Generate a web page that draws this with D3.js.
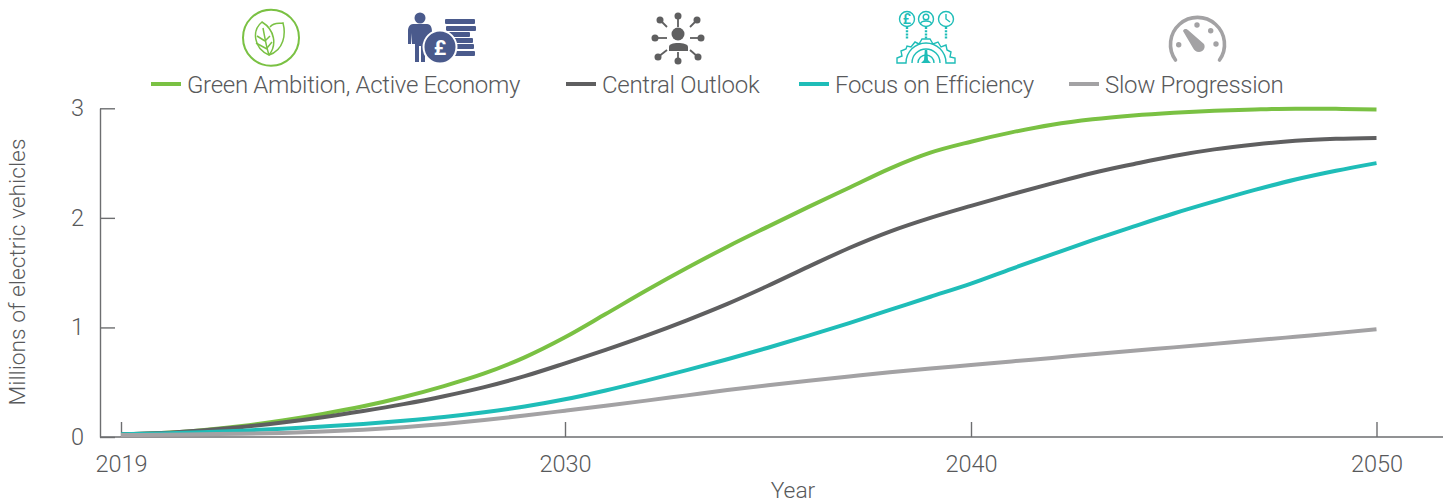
<!DOCTYPE html>
<html lang="en">
<head>
    <meta charset="UTF-8">
    <title>Electric vehicles</title>
    <style>
        html, body { margin: 0; padding: 0; background: #fff; }
        svg { display: block; }
        text { font-family: "Roboto", "Liberation Sans", sans-serif; font-weight: 300; fill: #58595b; }
    </style>
</head>
<body>
    <script src="https://d3js.org/d3.v7.min.js"></script>
    <script>
        // Data, one value per year
        let years = d3.range(2019, 2051);
        let seriesNames = ["Green Ambition, Active Economy", "Central Outlook", "Focus on Efficiency", "Slow Progression"];
        let greenAmbition = [0.025, 0.036, 0.062, 0.1, 0.15, 0.21, 0.28, 0.365, 0.465, 0.58, 0.727, 0.91,
            1.122, 1.337, 1.542, 1.737, 1.92, 2.1, 2.275, 2.45, 2.595, 2.695,
            2.78, 2.85, 2.9, 2.935, 2.96, 2.978, 2.99, 2.997, 2.995, 2.99];
        let centralOutlook = [0.025, 0.036, 0.06, 0.092, 0.132, 0.18, 0.237, 0.3, 0.372, 0.455, 0.555, 0.672,
            0.795, 0.925, 1.065, 1.215, 1.38, 1.555, 1.725, 1.875, 2.0, 2.11,
            2.215, 2.315, 2.41, 2.49, 2.565, 2.625, 2.67, 2.704, 2.722, 2.73];
        let focusOnEfficiency = [0.025, 0.032, 0.044, 0.058, 0.076, 0.096, 0.119, 0.148, 0.182, 0.225, 0.278, 0.344,
            0.425, 0.515, 0.61, 0.71, 0.815, 0.925, 1.04, 1.16, 1.28, 1.4,
            1.535, 1.667, 1.797, 1.92, 2.04, 2.15, 2.255, 2.35, 2.43, 2.5];
        let slowProgression = [0.018, 0.021, 0.025, 0.03, 0.037, 0.05, 0.067, 0.09, 0.119, 0.155, 0.196, 0.24,
            0.285, 0.332, 0.38, 0.428, 0.472, 0.513, 0.552, 0.59, 0.625, 0.657,
            0.69, 0.722, 0.755, 0.787, 0.818, 0.85, 0.882, 0.915, 0.948, 0.983];
        let xTicks = [2019, 2030, 2040, 2050];
        let yTicks = [0, 1, 2, 3];
        let colors = ["#7ac143", "#5f5f60", "#1fbdb8", "#a3a2a4"];

        let svgWidth = 1452;
        let svgHeight = 503;

        let svg = d3.select("body")
            .append("svg")
            .attr("width", svgWidth)
            .attr("height", svgHeight);

        // Scales
        let xScale = d3.scaleLinear()
            .domain([2019, 2030, 2040, 2050])
            .range([121, 565, 971, 1376.5]);
        let yScale = d3.scaleLinear()
            .domain([0, 3])
            .range([437, 108.3]);

        // Axes, ticks point into the plot
        let xAxis = d3.axisBottom(xScale)
            .tickValues(xTicks)
            .tickFormat(d3.format("d"))
            .tickSizeInner(-15)
            .tickSizeOuter(0)
            .tickPadding(18);
        let yAxis = d3.axisLeft(yScale)
            .tickValues(yTicks)
            .tickFormat(d3.format("d"))
            .tickSizeInner(-15)
            .tickSizeOuter(0)
            .tickPadding(16);

        let xGroup = svg.append("g")
            .attr("transform", "translate(0, 437)")
            .call(xAxis);
        xGroup.select(".domain").remove();
        xGroup.append("line")
            .attr("x1", 100)
            .attr("x2", 1443)
            .attr("stroke", "#6d6e70")
            .attr("stroke-width", 1.4);

        let yGroup = svg.append("g")
            .attr("transform", "translate(100, 0)")
            .call(yAxis);

        svg.selectAll(".tick line, .domain")
            .attr("stroke", "#6d6e70")
            .attr("stroke-width", 1.4);
        svg.selectAll(".tick text")
            .style("font-size", "23.5px")
            .style("font-family", null)
            .attr("fill", null);

        // Axis titles
        svg.append("text")
            .attr("x", 793)
            .attr("y", 497.5)
            .attr("text-anchor", "middle")
            .style("font-size", "22.8px")
            .text("Year");
        svg.append("text")
            .attr("transform", "translate(25, 272) rotate(-90)")
            .attr("text-anchor", "middle")
            .style("font-size", "22.8px")
            .text("Millions of electric vehicles");

        // Lines
        let line = d3.line()
            .x((d, i) => xScale(years[i]))
            .y(d => yScale(d))
            .curve(d3.curveMonotoneX);

        svg.selectAll(".series")
            .data([greenAmbition, centralOutlook, focusOnEfficiency, slowProgression])
            .enter()
            .append("path")
            .attr("class", "series")
            .attr("d", line)
            .attr("fill", "none")
            .attr("stroke", (d, i) => colors[i])
            .attr("stroke-width", 4);

        // Legend
        let legendX = [151, 566, 799, 1069];
        let legend = svg.selectAll(".legend")
            .data(seriesNames)
            .enter()
            .append("g")
            .attr("class", "legend")
            .attr("transform", (d, i) => `translate(${legendX[i]}, 84)`);
        legend.append("line")
            .attr("x2", 30)
            .attr("stroke", (d, i) => colors[i])
            .attr("stroke-width", 4);
        legend.append("text")
            .attr("x", 36)
            .attr("y", 8.5)
            .style("font-size", "24px")
            .style("letter-spacing", "-0.3px")
            .text(d => d);

        // Leaf icon
        let leaf = svg.append("g").attr("fill", "none").attr("stroke", colors[0]);
        leaf.append("circle").attr("cx", 271).attr("cy", 37.7).attr("r", 28).attr("stroke-width", 2);
        leaf.append("g").attr("stroke-width", 1.5).selectAll("path")
            .data([
                "M262,22 C252,30 253,48 269,55 C277,45 275,30 262,22 Z",
                "M270,27 C274,22 279,24 283,23 C286,34 284,50 269,55",
                "M263,28 C265,38 266,46 269,55",
                "M257,36 L265,41 M256,43 L267,49 M270,36 L265,41 M272,42 L267,48"
            ])
            .enter().append("path").attr("d", d => d);

        // Person with coins icon
        let blue = "#4a5a8c";
        let coins = svg.append("g").attr("fill", blue);
        coins.append("circle").attr("cx", 420).attr("cy", 18).attr("r", 5.5);
        coins.append("path")
            .attr("d", "M413,24 L427,24 C431,24 432,28 432,32 L432,43 L425,50 L425,62 L421,62 L421,46 L419,46 L419,62 L415,62 L415,44 L412,44 L412,33 L411,44 L408,44 L408,31 C408,27 410,24 413,24 Z");
        coins.selectAll(".coin-row")
            .data([[445, 19, 30], [446, 26, 30], [445, 32, 25], [447, 38, 26], [448, 44, 26], [452, 51, 23]])
            .enter().append("rect")
            .attr("x", d => d[0]).attr("y", d => d[1])
            .attr("width", d => d[2]).attr("height", 5)
            .attr("rx", 1);
        coins.append("circle").attr("cx", 440).attr("cy", 47).attr("r", 16.5).attr("stroke", "#fff").attr("stroke-width", 2);
        svg.append("text")
            .attr("x", 440).attr("y", 54.5)
            .attr("text-anchor", "middle")
            .style("font-size", "21px").style("font-weight", 700).style("fill", "#fff")
            .text("£");

        // Network icon
        let hub = svg.append("g").attr("fill", colors[1]).attr("stroke", colors[1]);
        let nodes = [[678, 16, 678, 27], [660, 20, 667, 27], [697, 20, 690, 27], [655, 38, 667, 38],
                     [701, 38, 690, 38], [658, 57, 667, 50], [698, 57, 690, 50], [678, 61, 678, 52]];
        hub.selectAll(".spoke").data(nodes).enter().append("line")
            .attr("x1", d => d[0]).attr("y1", d => d[1]).attr("x2", d => d[2]).attr("y2", d => d[3])
            .attr("stroke-width", 1.8);
        hub.selectAll(".node").data(nodes).enter().append("circle")
            .attr("cx", d => d[0]).attr("cy", d => d[1]).attr("r", 3.5).attr("stroke", "none");
        hub.append("circle").attr("cx", 678).attr("cy", 34).attr("r", 6.5).attr("stroke", "none");
        hub.append("path").attr("stroke", "none")
            .attr("d", "M669,51 L669,47 C669,44 673,43 678,43 C683,43 688,44 688,47 L688,51 Z");

        // Gear and dials icon
        let gear = svg.append("g").attr("fill", "none").attr("stroke", colors[2]).attr("stroke-width", 1.4);
        gear.selectAll(".dial").data([907, 926, 946]).enter().append("circle")
            .attr("cx", d => d).attr("cy", 19).attr("r", 7.5);
        gear.selectAll(".stem").data([907, 926, 946]).enter().append("line")
            .attr("x1", d => d).attr("x2", d => d).attr("y1", 27).attr("y2", 39)
            .attr("stroke-width", 2.4).attr("stroke-dasharray", "2 1.2");
        gear.append("path")
            .attr("d", "M897,63 L897,58 L902,56 L901,51 L906,49 L907,46 L911,47 L915,42 L919,44 L922,39 L930,39 L933,44 L938,42 L941,47 L946,45 L947,50 L951,52 L950,57 L955,58 L955,63 L946,63 A20,20 0 0 0 906,63 Z");
        gear.append("path").attr("d", "M912,63 A14,14 0 0 1 940,63 M918,63 A8,8 0 0 1 934,63");
        gear.append("path").attr("fill", colors[2]).attr("stroke", "none")
            .attr("d", "M924.8,50 L927.2,50 L928,60 L931,63 L921,63 L924,60 Z");
        gear.append("text").attr("x", 907).attr("y", 24)
            .attr("text-anchor", "middle").attr("stroke", "none")
            .style("font-size", "14px").style("font-weight", 600).style("fill", colors[2])
            .text("£");
        gear.append("circle").attr("cx", 926).attr("cy", 17).attr("r", 2.8);
        gear.append("path").attr("d", "M920.5,24 C921,20 931,20 931.5,24");
        gear.append("path").attr("d", "M946,14 L946,19 L950,22");

        // Gauge icon
        let gauge = svg.append("g").attr("fill", colors[3]);
        gauge.append("path")
            .attr("fill", "none").attr("stroke", colors[3]).attr("stroke-width", 3.6).attr("stroke-linecap", "round")
            .attr("d", "M1175.5,60 A27,27 0 1 1 1219.5,60");
        gauge.selectAll(".dot").data([[1178.7, 44.7], [1197, 25], [1210.7, 30.7], [1216, 44]]).enter().append("circle")
            .attr("cx", d => d[0]).attr("cy", d => d[1]).attr("r", 2.7);
        gauge.append("path")
            .attr("d", "M1183,31 C1184,28 1187,29 1188,30 L1204,44 C1206,48 1203,52 1199,52 C1196,52 1194,50 1193,48 Z");
    </script>
</body>
</html>
